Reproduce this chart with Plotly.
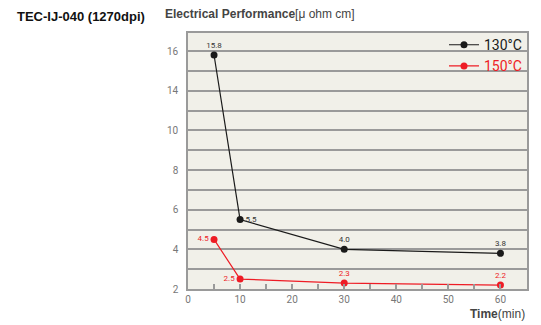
import plotly.graph_objects as go

time_130 = [5, 10, 30, 60]
resist_130 = [15.8, 5.5, 4.0, 3.8]
time_150 = [5, 10, 30, 60]
resist_150 = [4.5, 2.5, 2.3, 2.2]

y_tick_values = [2, 4, 6, 8, 10, 14, 16]
x_tick_labels = [0, 10, 20, 30, 40, 50, 60]

BLACK = "#1a1a1a"
RED = "#ee1c25"
GRID = "#9a9a9a"


def to_axis(v):
    # broken axis: 10..14 compressed into 2 units
    if v <= 10:
        return v
    if v < 14:
        return 10 + (v - 10) / 2
    return v - 2


fig = go.Figure()

fig.add_trace(go.Scatter(
    x=time_130, y=[to_axis(v) for v in resist_130],
    mode="lines+markers+text",
    text=[f"{v:.1f}" for v in resist_130],
    textposition=["top center", "middle right", "top center", "top center"],
    textfont=dict(size=8, color="#333", family="Roboto"),
    line=dict(color=BLACK, width=1.2),
    marker=dict(color=BLACK, size=7),
    name="130°C", cliponaxis=False,
))
fig.add_trace(go.Scatter(
    x=time_150, y=[to_axis(v) for v in resist_150],
    mode="lines+markers+text",
    text=[f"{v:.1f}" for v in resist_150],
    textposition=["middle left", "middle left", "top center", "top center"],
    textfont=dict(size=8, color=RED, family="Roboto"),
    line=dict(color=RED, width=1.2),
    marker=dict(color=RED, size=7),
    name=f"<span style='color:{RED}'>150°C</span>", cliponaxis=False,
))

grid_pos = list(range(2, 15))
label_map = {to_axis(v): str(v) for v in y_tick_values}
grid_text = [label_map.get(p, "") for p in grid_pos]

x_ticks = list(range(0, 61, 5))
x_text = [str(v) if v in x_tick_labels else "" for v in x_ticks]

PW = 541 - 188 - 14
PH = 325 - 33 - 36

fig.update_layout(
    width=541, height=325,
    margin=dict(l=188, r=14, t=33, b=36),
    paper_bgcolor="white",
    plot_bgcolor="#f1f0e9",
    font=dict(family="Roboto", color="#666"),
    showlegend=True,
    legend=dict(x=1, xanchor="right", y=1.015, yanchor="top",
                bgcolor="rgba(0,0,0,0)", font=dict(size=14, color=BLACK),
                itemwidth=30, tracegroupgap=1),
    xaxis=dict(range=[0, 65.1], tickvals=x_ticks, ticktext=x_text,
               ticks="inside", ticklen=5, tickcolor=GRID, tickwidth=1.5,
               showgrid=False, zeroline=False,
               showline=True, mirror=True, linecolor=GRID, linewidth=1.5,
               tickfont=dict(size=10, color="#777")),
    yaxis=dict(range=[2, 14.91], tickvals=grid_pos, ticktext=grid_text,
               showgrid=True, gridcolor=GRID, gridwidth=1.5, zeroline=False,
               showline=True, mirror=True, linecolor=GRID, linewidth=1.5,
               ticks="", ticklabelstandoff=6,
               tickfont=dict(size=10, color="#777")),
    annotations=[
        dict(text="<b>TEC-IJ-040 (1270dpi)</b>", xref="paper", yref="paper",
             x=(15 - 188) / PW, y=1 + 17 / PH, xanchor="left", yanchor="middle",
             showarrow=False, font=dict(family="Liberation Sans", size=13, color="#111")),
        dict(text="<b>Electrical Performance</b>[μ ohm cm]", xref="paper", yref="paper",
             x=(163 - 188) / PW, y=1 + 19 / PH, xanchor="left", yanchor="middle",
             showarrow=False, font=dict(family="Liberation Sans", size=12, color="#444")),
        dict(text="<b>Time</b>(min)", xref="paper", yref="paper",
             x=1.0, y=-16 / PH, xanchor="right", yanchor="top",
             showarrow=False, font=dict(family="Liberation Sans", size=12, color="#444")),
    ],
)

fig.write_html("out.html", config={"displayModeBar": False},
               post_script="document.body.style.margin='0';document.body.style.overflow='hidden';")
